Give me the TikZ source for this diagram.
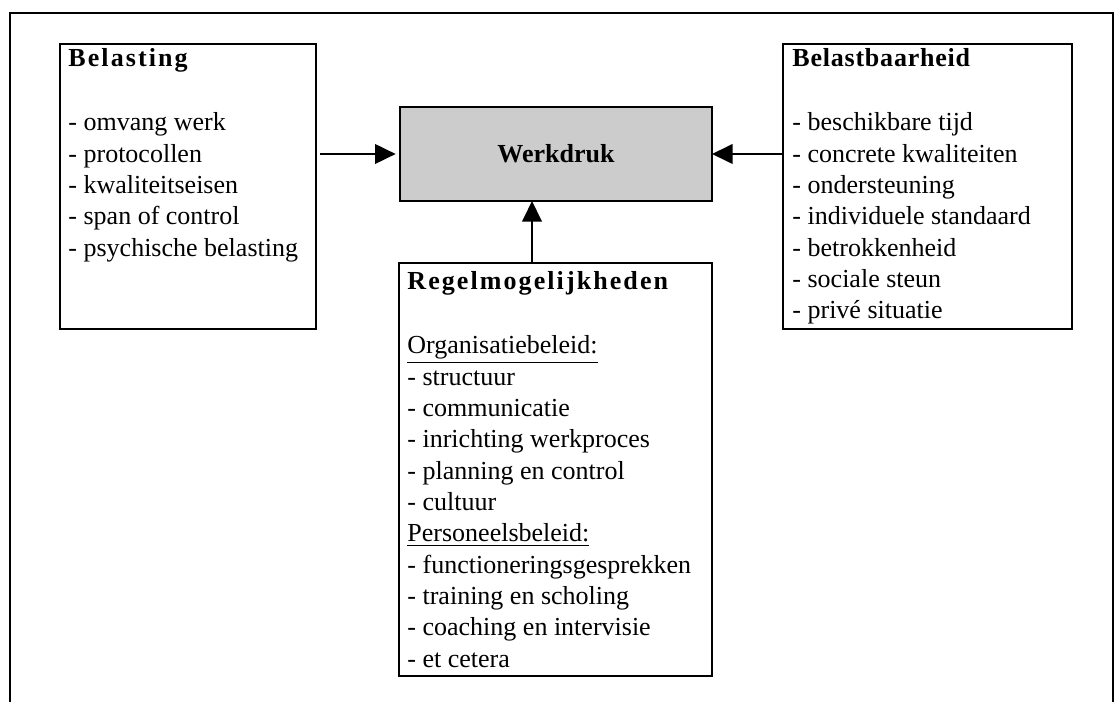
\documentclass[tikz,border=0pt]{standalone}
\usepackage{fontspec}
\setmainfont{Liberation Serif}
\definecolor{boxgray}{HTML}{CCCCCC}
\usetikzlibrary{arrows.meta,positioning,calc}
\newcommand{\pxu}{0.4615pt}
\newcommand{\spaced}[2]{{\bfseries\addfontfeatures{LetterSpace=#1}#2}}

\begin{document}
\begin{tikzpicture}[x=\pxu,y=-\pxu,
    box/.style={draw,line width=1pt,inner sep=0pt,outer sep=0pt,anchor=north west},
    item/.style={anchor=base west,inner sep=0pt,font=\fontsize{12}{14}\selectfont},
    arr/.style={-{Triangle[length=9.5pt,width=9pt]},line width=1pt}]
    \useasboundingbox (0,0) rectangle (1117,702);
    \draw[line width=1.1pt] (10,702) -- (10,13) -- (1113,13) -- (1113,702);

    % boxes
    \node[box,minimum width=256*\pxu,minimum height=285*\pxu] (bel) at (60,44) {};
    \node[box,minimum width=289*\pxu,minimum height=285*\pxu] (draag) at (783,44) {};
    \node[box,minimum width=313*\pxu,minimum height=413*\pxu] (regel) at (399,263) {};
    \node[box,fill=boxgray,minimum width=312*\pxu,minimum height=94*\pxu,
          font=\fontsize{12}{14}\selectfont\bfseries] (werk) at (400,107) {Werkdruk};

    % titles
    \node[item] (belT) at (68,67) {\spaced{8}{Belasting}};
    \node[item] (draagT) at (792,67) {\spaced{3}{Belastbaarheid}};
    \node[item] (regelT) at (407,290) {\spaced{8}{Regelmogelijkheden}};

    % lists
    \foreach \t [count=\i from 0] in {omvang werk,protocollen,kwaliteitseisen,span of control,psychische belasting}
        \node[item] (bel-\i) at (68,131+31.3*\i) {- \t};
    \foreach \t [count=\i from 0] in {beschikbare tijd,concrete kwaliteiten,ondersteuning,individuele standaard,betrokkenheid,sociale steun,privé situatie}
        \node[item] (draag-\i) at (792,131+31.3*\i) {- \t};
    \foreach \t [count=\i from 0] in {\underline{Organisatiebeleid:},- structuur,- communicatie,- inrichting werkproces,- planning en control,- cultuur,\underline{Personeelsbeleid:},- functioneringsgesprekken,- training en scholing,- coaching en intervisie,- et cetera}
        \node[item] (regel-\i) at (407,354+31.3*\i) {\t};

    % connectors
    \draw[arr,shorten <=2pt,shorten >=2pt] (bel.east |- werk.west) -- (werk.west);
    \draw[arr] (draag.west |- werk.east) -- (werk.east);
    \coordinate (up) at (532,263);
    \draw[arr] (up) -- (up |- werk.south);
\end{tikzpicture}
\end{document}
